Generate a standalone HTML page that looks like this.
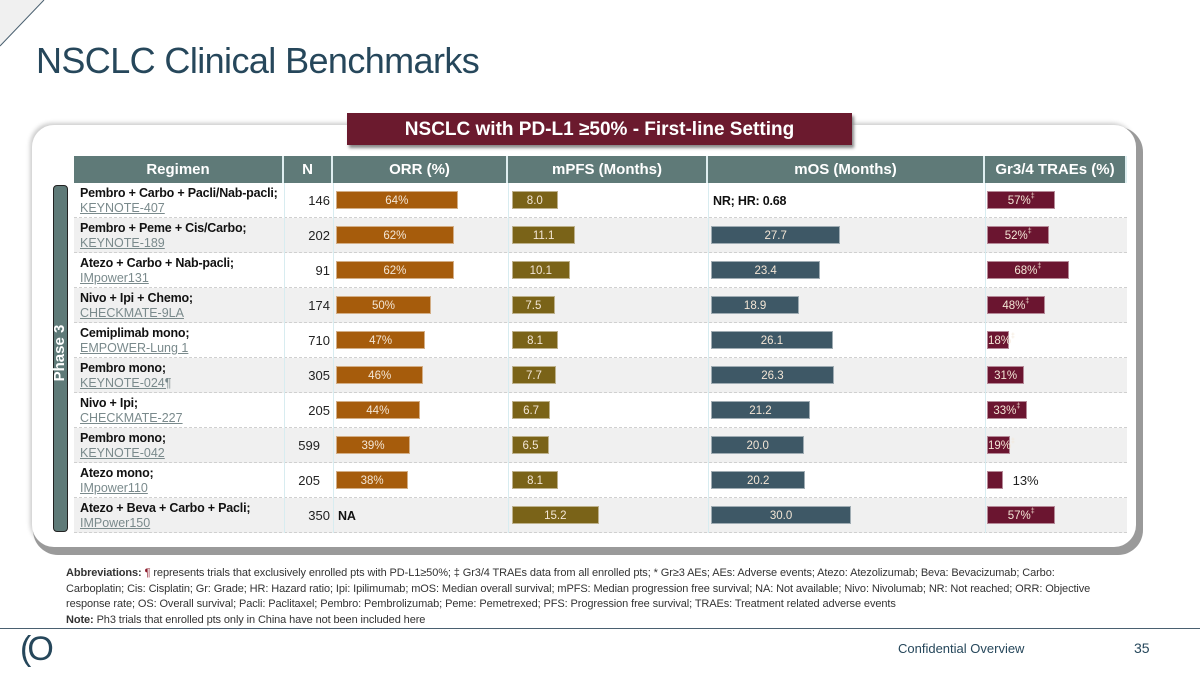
<!DOCTYPE html>
<html><head><meta charset="utf-8">
<style>
body{margin:0;width:1200px;height:675px;position:relative;background:#fff;font-family:"Liberation Sans",sans-serif;overflow:hidden}
.abs{position:absolute}
.title{left:36px;top:40px;font-size:36px;color:#26475b;letter-spacing:-0.6px}
.panel{left:32px;top:125px;width:1104px;height:422px;border-radius:22px;background:#fff;box-shadow:4px 5px 0 3px #9a9a9a, -2px -2px 4px #ccc}
.banner{left:347px;top:113px;width:505px;height:32px;background:#6b1a2e;color:#fff;font-weight:bold;font-size:19px;text-align:center;line-height:34px;box-shadow:2px 3px 3px #888}
.hdr{top:156px;height:27px;background:#5f7a78;color:#fff;font-weight:bold;font-size:15px;line-height:27px;text-align:center;border-right:2px solid #dfeef0;box-sizing:border-box}
.row{left:74px;width:1053px;height:35px;border-bottom:1px dashed #d0d0d0;box-sizing:border-box}
.reg{font-size:12.5px;font-weight:bold;color:#111;line-height:16px;letter-spacing:-0.2px}
.link{font-size:12.5px;color:#7a8a8c;text-decoration:underline;line-height:17px}
.n{font-size:13px;color:#222;text-align:right;width:40px}
.bar{height:18px;font-size:11.5px;color:#f3e6d6;text-align:center;line-height:18px;box-sizing:border-box;border:1px solid rgba(255,255,255,0.5);white-space:nowrap}
.vline{width:1px;background:#d8ecf0}
.abbr{left:66px;top:566px;width:1025px;font-size:11px;color:#333;line-height:15.5px;letter-spacing:-0.1px}
</style></head><body>
<svg class="abs" style="left:0;top:0" width="50" height="50"><polygon points="0,0 44,0 0,46" fill="#f0f0f0"/><line x1="44" y1="0" x2="0" y2="46" stroke="#4a6070" stroke-width="1"/></svg>
<div class="abs title">NSCLC Clinical Benchmarks</div>
<div class="abs panel"></div>
<div class="abs banner">NSCLC with PD-L1 ≥50% - First-line Setting</div>
<div id="tbl"></div>
<div class="abs" style="left:53px;top:185px;width:15px;height:347px;background:#5f7a78;border:1.5px solid #222;border-radius:4px;box-sizing:border-box"></div>
<div class="abs" style="left:10px;top:345px;width:100px;height:16px;transform:rotate(-90deg);color:#fff;font-weight:bold;font-size:15px;text-align:center;line-height:16px">Phase 3</div>
<div class="abs abbr"><b>Abbreviations:</b> <span style="color:#8b1a2a">¶</span> represents trials that exclusively enrolled pts with PD-L1≥50%; ‡ Gr3/4 TRAEs data from all enrolled pts; * Gr≥3 AEs; AEs: Adverse events; Atezo: Atezolizumab; Beva: Bevacizumab; Carbo: Carboplatin; Cis: Cisplatin; Gr: Grade; HR: Hazard ratio; Ipi: Ipilimumab; mOS: Median overall survival; mPFS: Median progression free survival; NA: Not available; Nivo: Nivolumab; NR: Not reached; ORR: Objective response rate; OS: Overall survival; Pacli: Paclitaxel; Pembro: Pembrolizumab; Peme: Pemetrexed; PFS: Progression free survival; TRAEs: Treatment related adverse events<br><b>Note:</b> Ph3 trials that enrolled pts only in China have not been included here</div>
<div class="abs" style="left:0;top:628px;width:1200px;height:1px;background:#4a6070"></div>
<div class="abs" style="left:20px;top:630px;font-size:34px;color:#26475b;letter-spacing:-4px">(O</div>
<div class="abs" style="left:898px;top:641px;font-size:13px;color:#26475b">Confidential Overview</div>
<div class="abs" style="left:1134px;top:640px;font-size:14px;color:#26475b">35</div>
<script>
const regimens=["Pembro + Carbo + Pacli/Nab-pacli;","Pembro + Peme + Cis/Carbo;","Atezo + Carbo + Nab-pacli;","Nivo + Ipi + Chemo;","Cemiplimab mono;","Pembro mono;","Nivo + Ipi;","Pembro mono;","Atezo mono;","Atezo + Beva + Carbo + Pacli;"];
const trials=["KEYNOTE-407","KEYNOTE-189","IMpower131","CHECKMATE-9LA","EMPOWER-Lung 1","KEYNOTE-024¶","CHECKMATE-227","KEYNOTE-042","IMpower110","IMPower150"];
const nValues=[146,202,91,174,710,305,205,599,205,350];
const orr=[64,62,62,50,47,46,44,39,38,null];
const mpfs=[8.0,11.1,10.1,7.5,8.1,7.7,6.7,6.5,8.1,15.2];
const mos=[null,27.7,23.4,18.9,26.1,26.3,21.2,20.0,20.2,30.0];
const trae=[57,52,68,48,18,31,33,19,13,57];
const traeDagger=[1,1,1,1,1,0,1,1,0,1];
const headers=["Regimen","N","ORR (%)","mPFS (Months)","mOS (Months)","Gr3/4 TRAEs (%)"];
const colX=[74,284,333,508,708,985,1127];
const xOrr=v=>v*1.9, xPfs=v=>v*5.7, xOs=v=>v*4.67, xTrae=v=>v*1.2;
const T=document.getElementById('tbl');
function mk(cls,st,txt){const d=document.createElement('div');d.className='abs '+cls;d.style.cssText=st;if(txt!=null)d.innerHTML=txt;T.appendChild(d);return d;}
headers.forEach((h,i)=>{const d=mk('hdr',`left:${colX[i]}px;width:${colX[i+1]-colX[i]}px`,h);

});
const R0=183,RH=35;
regimens.forEach((r,i)=>{const y=R0+i*RH;
const row=mk('row',`top:${y}px;background:${i%2?'#f0f0f0':'#fff'}`);


const a=mk('reg',`left:80px;top:${y+2}px`,r);


const b=mk('link',`left:80px;top:${y+17}px`,trials[i]);


const n=mk('n',`left:${[7,8].includes(i)?280:290}px;top:${y+10}px`,nValues[i]);


const cy=y+8;
function bar(x0,w,col,lab,name){const d=mk('bar',`left:${x0}px;top:${cy}px;width:${w}px;background:${col}`,lab);

return d;}
if(orr[i]!=null)bar(336,xOrr(orr[i]),'#a65c0c',orr[i]+'%','bar-orr');
else{const t=mk('reg',`left:338px;top:${y+10}px`,'NA');}
bar(512,xPfs(mpfs[i]),'#7a6318',mpfs[i].toFixed(1),'bar-mpfs');
if(mos[i]!=null)bar(711,xOs(mos[i]),'#3e5866',mos[i].toFixed(1),'bar-mos');
else{const t=mk('reg',`left:713px;top:${y+10}px`,'NR; HR: 0.68');}
const lab=trae[i]+'%'+(traeDagger[i]?'<span style="font-size:7px;vertical-align:top;line-height:10px">‡</span>':'');
if(trae[i]<15){bar(987,xTrae(trae[i]),'#6b1530','','bar-trae');
const t=mk('n',`left:${987+xTrae(trae[i])+10}px;top:${y+10}px;text-align:left`,lab);}
else{const d=bar(987,xTrae(trae[i]),'#6b1530',lab,'bar-trae');d.style.overflow='visible';}
});
[284,333,508,708,985].forEach(x=>{const v=mk('vline',`left:${x}px;top:183px;height:350px`);

});
</script>
</body></html>
